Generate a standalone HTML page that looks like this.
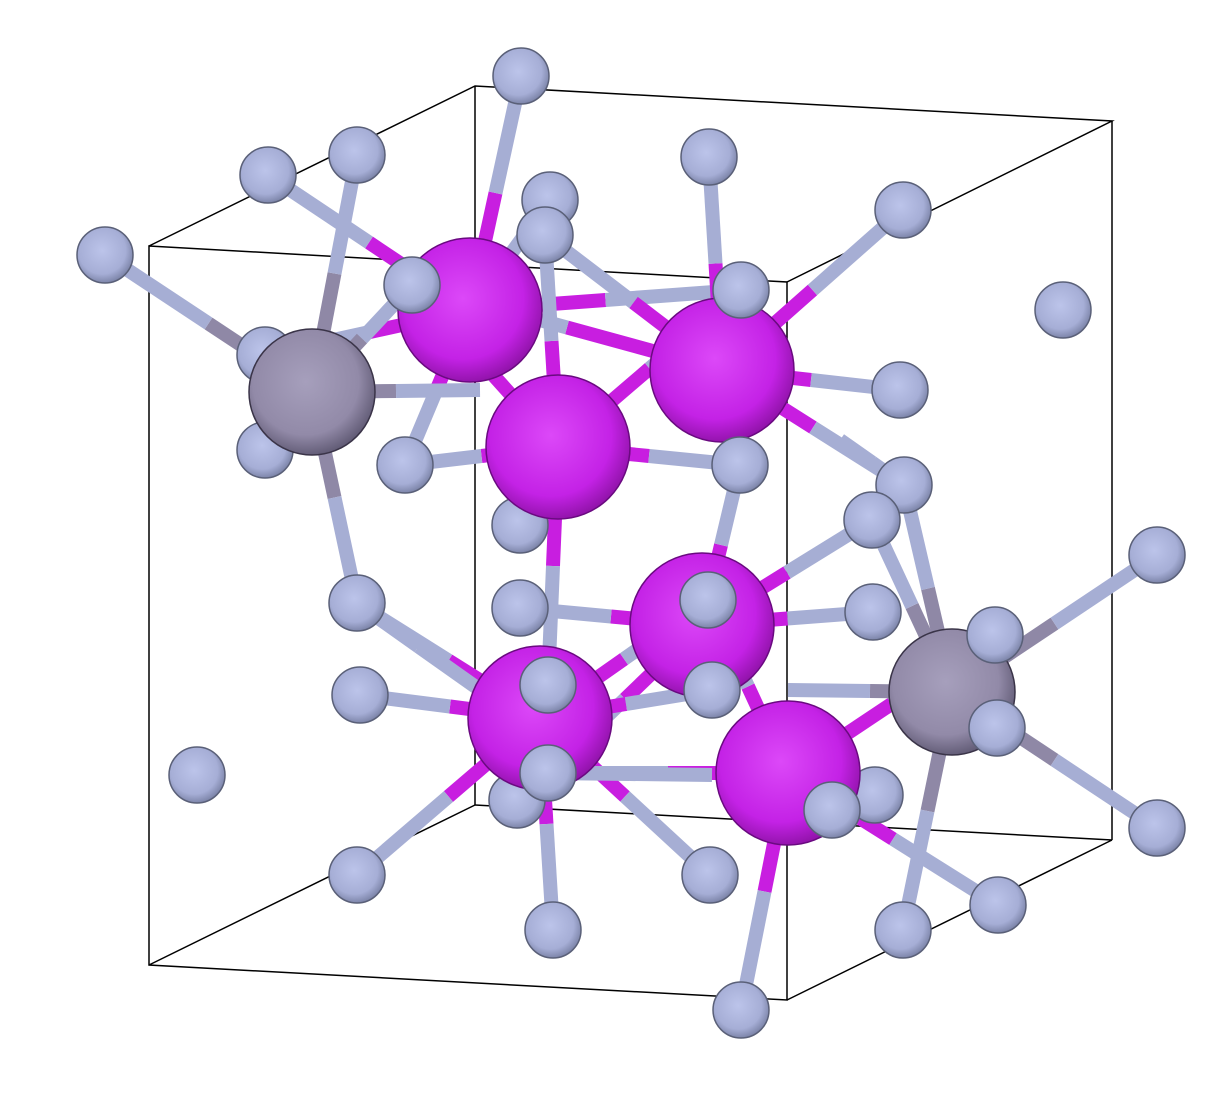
<!DOCTYPE html>
<html><head><meta charset="utf-8"><style>
html,body{margin:0;padding:0;background:#fff;width:1220px;height:1097px;overflow:hidden}
</style></head><body>
<svg id="s" width="1220" height="1097" viewBox="0 0 1220 1097" xmlns="http://www.w3.org/2000/svg">
<defs>
<radialGradient id="gM" cx="0.45" cy="0.42" r="0.6"><stop offset="0" stop-color="#dc48f8"/><stop offset="0.7" stop-color="#c422e6"/><stop offset="1" stop-color="#8e12a6"/></radialGradient>
<radialGradient id="gS" cx="0.45" cy="0.42" r="0.6"><stop offset="0" stop-color="#bcc4ea"/><stop offset="0.7" stop-color="#a6aed6"/><stop offset="1" stop-color="#7880a4"/></radialGradient>
<radialGradient id="gG" cx="0.45" cy="0.42" r="0.6"><stop offset="0" stop-color="#a69fbc"/><stop offset="0.7" stop-color="#928aa8"/><stop offset="1" stop-color="#5e5872"/></radialGradient>
</defs>
<g id="cell" stroke="#000" stroke-width="1.5" fill="none">
<polygon points="149,246 787,282 787,1000 149,965"/>
<polyline points="149,246 475,86 1112,121 787,282"/>
<line x1="1112" y1="121" x2="1112" y2="840"/>
<line x1="787" y1="1000" x2="1112" y2="840"/>
<line x1="149" y1="965" x2="475" y2="805"/>
<line x1="475" y1="86" x2="475" y2="805"/>
<line x1="475" y1="805" x2="1112" y2="840"/>
</g>
<g id="bonds"></g>
<g id="atoms"></g>
</svg>
<script>
const large = [[470,310],[722,370],[558,447],[702,625],[540,718],[788,773]];
const gray = [[312,392],[952,692]];
const backSmall = [[265,355],[265,450],[520,525],[520,608],[873,612],[875,795],[517,800],[710,875],[550,200],[1063,310],[197,775]];
const frontSmall = [[521,76],[268,175],[357,155],[709,157],[903,210],[105,255],[545,235],[412,285],[741,290],[900,390],[405,465],[740,465],[904,485],[872,520],[1157,555],[357,603],[708,600],[995,635],[360,695],[548,685],[712,690],[997,728],[548,773],[832,810],[1157,828],[357,875],[998,905],[903,930],[553,930],[741,1010]];
const bondsM = [
 [0,[521,76]],[0,[268,175]],[0,[550,200]],[0,[405,465]],[0,[265,355]],[0,[741,290]],
 [1,[709,157]],[1,[903,210]],[1,[900,390]],[1,[904,485]],[1,[740,465]],[1,[545,235]],[1,[412,285]],
 [2,[545,235]],[2,[405,465]],[2,[740,465]],[2,[548,685]],[2,[741,290]],[2,[412,285]],
 [3,[708,600]],[3,[872,520]],[3,[873,612]],[3,[520,608]],[3,[548,773]],[3,[712,690]],[3,[740,465]],
 [4,[548,685]],[4,[360,695]],[4,[357,875]],[4,[553,930]],[4,[548,773]],[4,[708,600]],[4,[712,690]],[4,[357,603]],[4,[710,875]],
 [5,[741,1010]],[5,[998,905]],[5,[832,810]],[5,[875,795]],[5,[548,773]],[5,[708,600]],[5,[995,635]]
];
const bondsG = [
 [0,[105,255]],[0,[357,155]],[0,[412,285]],[0,[265,355]],[0,[265,450]],[0,[357,603]],[0,[480,390]],
 [1,[904,485]],[1,[872,520]],[1,[1157,555]],[1,[995,635]],[1,[997,728]],[1,[1157,828]],[1,[903,930]],[1,[788,690]]
];
const bondsS = [[[548,773],[712,775]],[[357,603],[480,690]],[[904,485],[840,440]]];
const NS="http://www.w3.org/2000/svg";
const B=document.getElementById('bonds'), A=document.getElementById('atoms');
function seg(a,b,c){const l=document.createElementNS(NS,'line');
l.setAttribute('x1',a[0]);l.setAttribute('y1',a[1]);l.setAttribute('x2',b[0]);l.setAttribute('y2',b[1]);
l.setAttribute('stroke',c);l.setAttribute('stroke-width',14);


B.appendChild(l);}
function bond(p,q,c1,c2){const m=[(p[0]+q[0])/2,(p[1]+q[1])/2];seg(p,m,c1);seg(m,q,c2);}
bondsM.forEach(b=>bond(large[b[0]],b[1],'#c81ee0','#a6aed4'));
bondsG.forEach(b=>bond(gray[b[0]],b[1],'#8f88a6','#a6aed4'));
bondsS.forEach(b=>bond(b[0],b[1],'#a6aed4','#a6aed4'));
function atom(p,r,g,st,name){const c=document.createElementNS(NS,'circle');
c.setAttribute('cx',p[0]);c.setAttribute('cy',p[1]);c.setAttribute('r',r);
c.setAttribute('fill','url(#'+g+')');c.setAttribute('stroke',st);c.setAttribute('stroke-width',1.5);


A.appendChild(c);}
backSmall.forEach(p=>atom(p,28,'gS','#5a6078','small-atom'));
gray.forEach(p=>atom(p,63,'gG','#3a3448','gray-atom'));
large.forEach(p=>atom(p,72,'gM','#6a0a80','magenta-atom'));
frontSmall.forEach(p=>atom(p,28,'gS','#5a6078','small-atom'));
</script>
</body></html>
